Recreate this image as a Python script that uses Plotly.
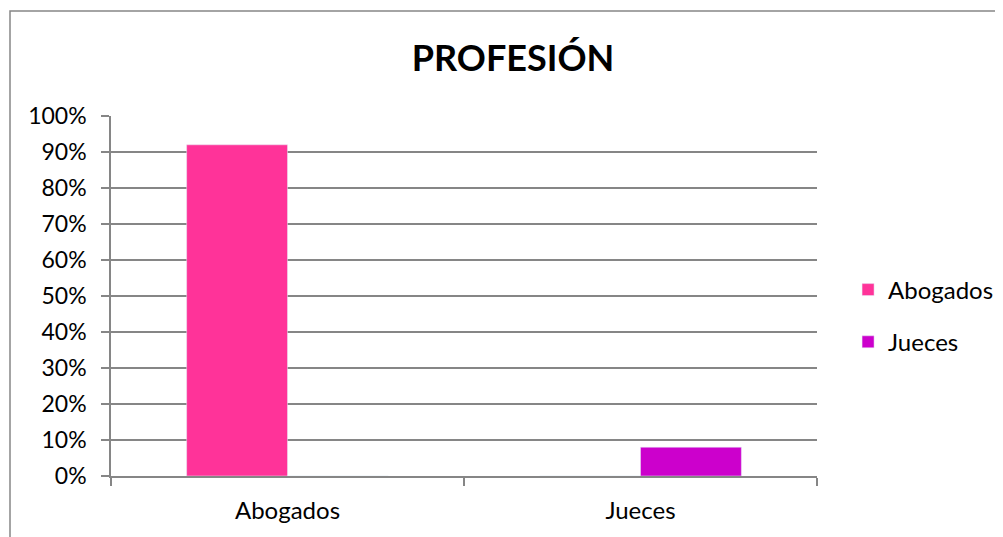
import plotly.graph_objects as go

categories = ["Abogados", "Jueces"]
abogados = [0.92, 0]
jueces = [0, 0.08]
y_ticks = [0, 0.1, 0.2, 0.3, 0.4, 0.5, 0.6, 0.7, 0.8, 0.9, 1.0]

grey = "#868686"
font = "Lato, Carlito, Calibri, sans-serif"

# page body adds 8px, so the figure is laid out 8px up/left
W, H = 1003, 537
L, T, R, B = 103, 108, 809, 468
pw, ph = R - L, B - T

fig = go.Figure(data=[
    go.Bar(name="Abogados", x=categories, y=abogados, marker_color="#FF3399",
           legendgroup="a"),
    go.Bar(name="Jueces", x=categories, y=jueces, marker_color="#CC00CC",
           legendgroup="j"),
])

fig.update_layout(
    width=W, height=H,
    margin=dict(l=L, r=W - R, t=T, b=H - B),
    paper_bgcolor="white", plot_bgcolor="white",
    barmode="group", bargap=1.5 / 3.5, bargroupgap=0,
    font=dict(family=font, size=24, color="black"),
    title=dict(text="<b>PROFESIÓN</b>", x=505 / W, xanchor="center",
               y=1 - 50 / H, yanchor="middle",
               font=dict(family=font, size=36, color="black")),
    legend=dict(x=1.044, xanchor="left", y=(B - 308) / ph, yanchor="middle",
                tracegroupgap=18, font=dict(size=24), itemwidth=30),
    showlegend=True,
)

fig.update_yaxes(range=[0, 1], tickvals=y_ticks, tickformat=".0%",
                 tickfont=dict(size=23), ticklabelstandoff=10,
                 showgrid=True, gridcolor=grey, gridwidth=1.5,
                 showline=True, linecolor=grey, linewidth=1.5,
                 ticks="outside", tickcolor=grey, ticklen=8, tickwidth=1.5,
                 zeroline=False, fixedrange=True, automargin=False)
fig.update_xaxes(showline=True, linecolor=grey, linewidth=1.5,
                 ticks="outside", tickson="boundaries", tickcolor=grey,
                 ticklen=8, tickwidth=1.5, showgrid=False, fixedrange=True,
                 ticklabelstandoff=12, automargin=False)

# outer chart frame (left and top edges visible)
fig.add_shape(type="rect", xref="paper", yref="paper",
              x0=(2 - L) / pw, x1=(W + 40 - L) / pw,
              y0=(B - H - 40) / ph, y1=(B - 3) / ph,
              line=dict(color=grey, width=1.5), layer="below")

fig.write_html("out.html")
